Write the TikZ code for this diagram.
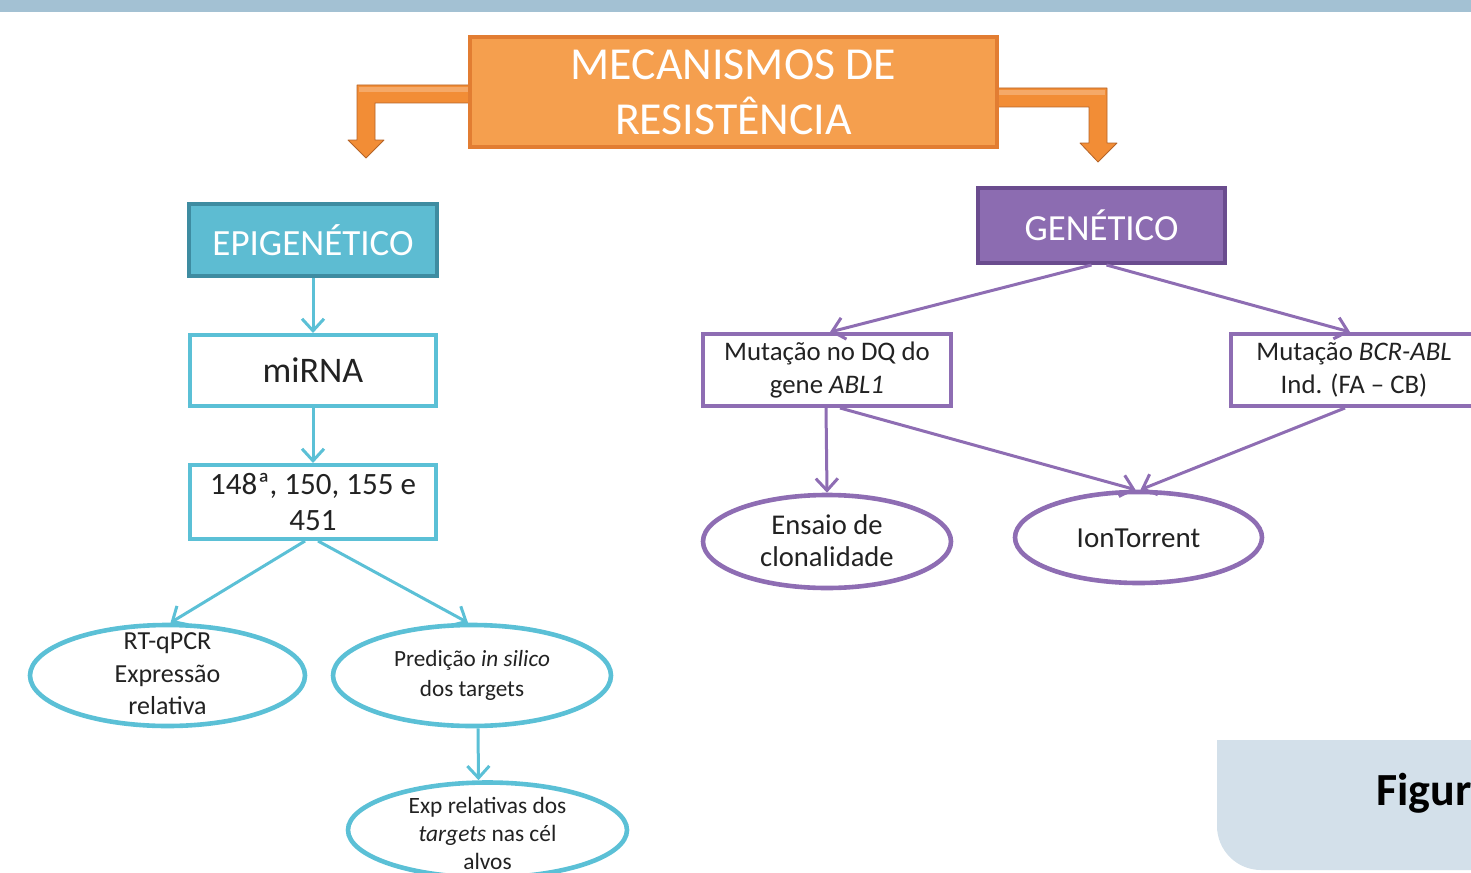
\documentclass[tikz,border=0pt]{standalone}
\usepackage{fontspec}
\setmainfont{Carlito}
\usetikzlibrary{shapes.geometric,arrows.meta,calc}
\definecolor{topbar}{HTML}{A3C1D3}
\definecolor{panel}{HTML}{D3E0EA}
\definecolor{orfill}{HTML}{F59F4E}
\definecolor{ordraw}{HTML}{E27D32}
\definecolor{arrfill}{HTML}{F28D36}
\definecolor{cyfill}{HTML}{5DBCD2}
\definecolor{cydraw}{HTML}{3E8CA1}
\definecolor{cyline}{HTML}{5BC0D6}
\definecolor{pufill}{HTML}{8C6CB1}
\definecolor{pudraw}{HTML}{6A4C8E}
\definecolor{puline}{HTML}{8E6DB3}
\definecolor{txt}{HTML}{222222}
\tikzset{
  cybox/.style={draw=cyline, line width=2pt, fill=white, rectangle, inner sep=0pt, text=txt, align=center},
  pubox/.style={draw=puline, line width=2pt, fill=white, rectangle, inner sep=0pt, text=txt, align=center},
  cyell/.style={draw=cyline, line width=2.3pt, fill=white, ellipse, inner sep=0pt},
  puell/.style={draw=puline, line width=2.3pt, fill=white, ellipse, inner sep=0pt},
  etext/.style={text=txt, align=center, inner sep=0pt},
  cyarr/.style={draw=cyline, line width=1.5pt, -{Straight Barb[length=6pt,width=11pt,line width=1.5pt]}},
  puarr/.style={draw=puline, line width=1.5pt, -{Straight Barb[length=6pt,width=11pt,line width=1.5pt]}},
  bent/.style={fill=arrfill, draw=ordraw!80!black, line width=0.4pt, line join=round}
}
\begin{document}
\begin{tikzpicture}[x=0.5pt,y=-0.5pt]
\useasboundingbox (0,0) rectangle (1471,872);
\clip (0,0) rectangle (1471,872);
% top band
\fill[topbar] (0,0) rectangle (1471,12);
% bottom-right panel
\fill[panel] (1480,740) -- (1217,740) [rounded corners=22pt] -- (1217,870) [sharp corners] -- (1480,870) -- cycle;
\node[anchor=base west, inner sep=0pt, text=black, font=\bfseries\fontsize{23}{27}\selectfont] (fig) at (1376,805) {Figur};

% bent arrows
\path[bent] (470,85) -- (357,85) -- (357,140) -- (348,140) -- (366,158) -- (384,140) -- (375,140) -- (375,103) -- (470,103) -- cycle;
\fill[white, opacity=0.25] (470,87) -- (359,87) -- (359,92) -- (470,92) -- cycle;
\path[bent] (993,88) -- (1107,88) -- (1107,143) -- (1117,143) -- (1098,162) -- (1080,143) -- (1089,143) -- (1089,107) -- (993,107) -- cycle;
\fill[white, opacity=0.25] (993,90) -- (1105,90) -- (1105,95) -- (993,95) -- cycle;

% title
\node[rectangle, fill=orfill, draw=ordraw, line width=2pt, minimum width=263.5pt, minimum height=55pt, inner sep=0pt, text=white, align=center, font=\fontsize{22.9}{27.5}\selectfont] (title) at (733.5,92) {MECANISMOS DE\\RESIST\^ENCIA};

% epigenetic branch
\node[rectangle, fill=cyfill, draw=cydraw, line width=2pt, minimum width=124pt, minimum height=36pt, inner sep=0pt, text=white, font=\fontsize{18.5}{20}\selectfont] (epi) at (313,240) {EPIGEN\'ETICO};
\node[cybox, minimum width=123pt, minimum height=35.5pt, font=\fontsize{18}{20}\selectfont] (mirna) at (313,370.5) {miRNA};
\node[cybox, minimum width=123pt, minimum height=37pt, font=\fontsize{15.5}{18}\selectfont] (b148) at (313,502) {148ª, 150, 155 e\\451};

\node[cyell, minimum width=137.5pt, minimum height=50.5pt] (rt) at (167.5,675.5) {};
\node[etext, font=\fontsize{13}{16.3}\selectfont] (rtT) at (167.5,674) {RT-qPCR\\Express\~ao\\relativa};
\node[cyell, minimum width=139pt, minimum height=50.5pt] (pred) at (472,675.5) {};
\node[etext, font=\fontsize{11.6}{15}\selectfont] (predT) at (472,675) {Predi\c{c}\~ao \textit{in silico}\\dos targets};
\node[cyell, minimum width=139.5pt, minimum height=47.5pt] (exp) at (487.5,830) {};
\node[etext, font=\fontsize{11.7}{14}\selectfont] (expT) at (487.5,833) {Exp relativas dos\\\textit{targets} nas c\'el\\alvos};

\draw[cyarr] (epi.south) -- (mirna.north);
\draw[cyarr] (mirna.south) -- (b148.north);
\draw[cyarr] ($(b148.south)+(-8,0)$) -- ($(rt.north)+(3,0)$);
\draw[cyarr] ($(b148.south)+(5,0)$) -- ($(pred.north)+(-4,0)$);
\draw[cyarr] ($(pred.south)+(6,0)$) -- ($(exp.north)+(-9,0)$);

% genetic branch
\node[rectangle, fill=pufill, draw=pudraw, line width=2pt, minimum width=123.5pt, minimum height=37.5pt, inner sep=0pt, text=white, font=\fontsize{18.4}{20}\selectfont] (gen) at (1101.5,225.5) {GEN\'ETICO};
\node[pubox, minimum width=124pt, minimum height=36pt, font=\fontsize{13.4}{16.5}\selectfont] (dq) at (827,370) {Muta\c{c}\~ao no DQ do\\gene \textit{ABL1}};
\node[pubox, minimum width=123pt, minimum height=36pt, font=\fontsize{13.4}{16.5}\selectfont] (bcr) at (1354,370) {Muta\c{c}\~ao \textit{BCR-ABL}\\Ind. (FA -- CB)};
\node[puell, minimum width=124pt, minimum height=46.5pt] (ens) at (827,541.5) {};
\node[etext, font=\fontsize{14.3}{16}\selectfont] (ensT) at (827,541) {Ensaio de\\clonalidade};
\node[puell, minimum width=123.5pt, minimum height=45.5pt] (ion) at (1138.5,537.5) {};
\node[etext, font=\fontsize{14.5}{16}\selectfont] (ionT) at (1138.5,538) {IonTorrent};

\draw[puarr] ($(gen.south)+(-10,0)$) -- ($(dq.north)+(3,0)$);
\draw[puarr] ($(gen.south)+(5,0)$) -- ($(bcr.north)+(-4,0)$);
\draw[puarr] ($(dq.south)+(-1,0)$) -- (ens.north);
\draw[puarr] ($(dq.south)+(13,0)$) -- ($(ion.north)+(-3,0)$);
\draw[puarr] ($(bcr.south)+(-9,0)$) -- ($(ion.north)+(2,0)$);
\end{tikzpicture}
\end{document}
